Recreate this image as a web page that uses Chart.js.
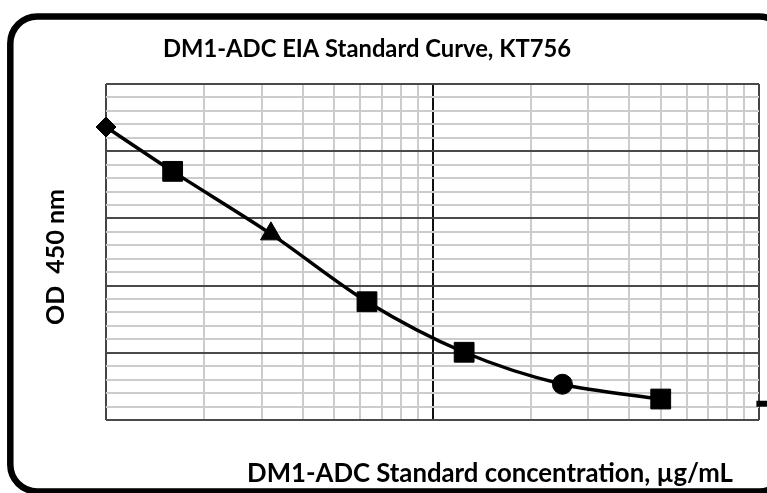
<!DOCTYPE html>
<html><head><meta charset="utf-8">
<script src="https://cdn.jsdelivr.net/npm/chart.js@4.4.1/dist/chart.umd.min.js"></script>
<style>html,body{margin:0;padding:0;background:#fff;}canvas{display:block;}</style>
</head><body>
<canvas id="c" width="767" height="493"></canvas>
<script>
const chartTitle = 'DM1-ADC EIA Standard Curve, KT756';
const xAxisTitle = 'DM1-ADC Standard concentration, µg/mL';
const yAxisTitle = 'OD  450 nm';
const concentrations = [0.001, 0.0016, 0.0032, 0.0063, 0.0125, 0.025, 0.05];
const odValues = [2.18, 1.85, 1.385, 0.88, 0.504, 0.266, 0.156];
const markerStyles = ['rectRot', 'rect', 'triangle', 'rect', 'rect', 'circle', 'rect'];
const markerSizes = [10, 14, 12, 14, 14, 10, 14];
const offscaleConc = [0.1035];
const offscaleOd = [0.121];
const xDecades = [0.001, 0.01, 0.1];
const yMin = 0, yMax = 2.5, yMinorStep = 0.1, yMajorEvery = 5;

const FONT = 'Lato, "Open Sans", sans-serif';

function isDecade(v) {
  const l = Math.log10(v);
  return Math.abs(l - Math.round(l)) < 1e-6;
}

function drawFit(c, text, cx, baseline, width) {
  c.save();
  c.font = 'bold 20px ' + FONT;
  const w = c.measureText(text).width;
  const size = 20 * width / w;
  c.font = 'bold ' + size.toFixed(2) + 'px ' + FONT;
  c.textAlign = 'center';
  c.textBaseline = 'alphabetic';
  c.fillStyle = '#000';
  c.fillText(text, cx, baseline);
  c.restore();
}

const decor = {
  id: 'decor',
  beforeDraw(chart) {
    const c = chart.ctx;
    c.save();
    c.lineWidth = 6.5;
    c.strokeStyle = '#000';
    c.beginPath();
    c.roundRect(10.3, 16.5, 776, 475, 27);
    c.stroke();
    c.restore();
  },
  afterDraw(chart) {
    const c = chart.ctx;
    drawFit(c, chartTitle, 367, 57, 408);
    drawFit(c, xAxisTitle, 490, 481.5, 486);
    c.save();
    c.translate(64, 257);
    c.rotate(-Math.PI / 2);
    drawFit(c, yAxisTitle, 0, 0, 136);
    c.restore();
  }
};

new Chart(document.getElementById('c'), {
  type: 'line',
  data: {
    datasets: [
      {
        data: concentrations.map((x, i) => ({ x, y: odValues[i] })),
        borderColor: '#000',
        borderWidth: 3.5,
        tension: 0.3,
        pointStyle: markerStyles,
        pointRadius: markerSizes,
        pointBackgroundColor: '#000',
        pointBorderColor: '#000',
        pointBorderWidth: 1,
        clip: false
      },
      {
        data: offscaleConc.map((x, i) => ({ x, y: offscaleOd[i] })),
        showLine: false,
        pointStyle: 'line',
        pointRadius: 7.5,
        pointBorderWidth: 6,
        pointBorderColor: '#000',
        pointBackgroundColor: '#000',
        clip: false
      }
    ]
  },
  options: {
    responsive: false,
    animation: false,
    devicePixelRatio: 1,
    layout: { autoPadding: false, padding: { left: 106, top: 84, right: 8, bottom: 73 } },
    plugins: { legend: { display: false }, tooltip: { enabled: false }, title: { display: false } },
    scales: {
      x: {
        type: 'logarithmic',
        min: xDecades[0],
        max: xDecades[xDecades.length - 1],
        afterBuildTicks(scale) {
          const t = [];
          for (let d = 0; d < xDecades.length - 1; d++) {
            for (let m = 1; m < 10; m++) t.push({ value: xDecades[d] * m });
          }
          t.push({ value: xDecades[xDecades.length - 1] });
          scale.ticks = t;
        },
        ticks: { display: false },
        border: { display: false },
        grid: {
          drawTicks: false,
          color: (ctx) => {
            const v = ctx.tick && ctx.tick.value;
            if (v === xDecades[0] || v === xDecades[xDecades.length - 1]) return '#444';
            return isDecade(v) ? '#111' : '#cccccc';
          },
          lineWidth: 2
        }
      },
      y: {
        type: 'linear',
        min: yMin,
        max: yMax,
        ticks: { display: false, stepSize: yMinorStep },
        border: { display: false },
        grid: {
          drawTicks: false,
          color: (ctx) => {
            const k = Math.round(ctx.tick.value / yMinorStep);
            return k % yMajorEvery === 0 ? '#4a4a4a' : '#cccccc';
          },
          lineWidth: 2
        }
      }
    }
  },
  plugins: [decor]
});
</script>
</body></html>
